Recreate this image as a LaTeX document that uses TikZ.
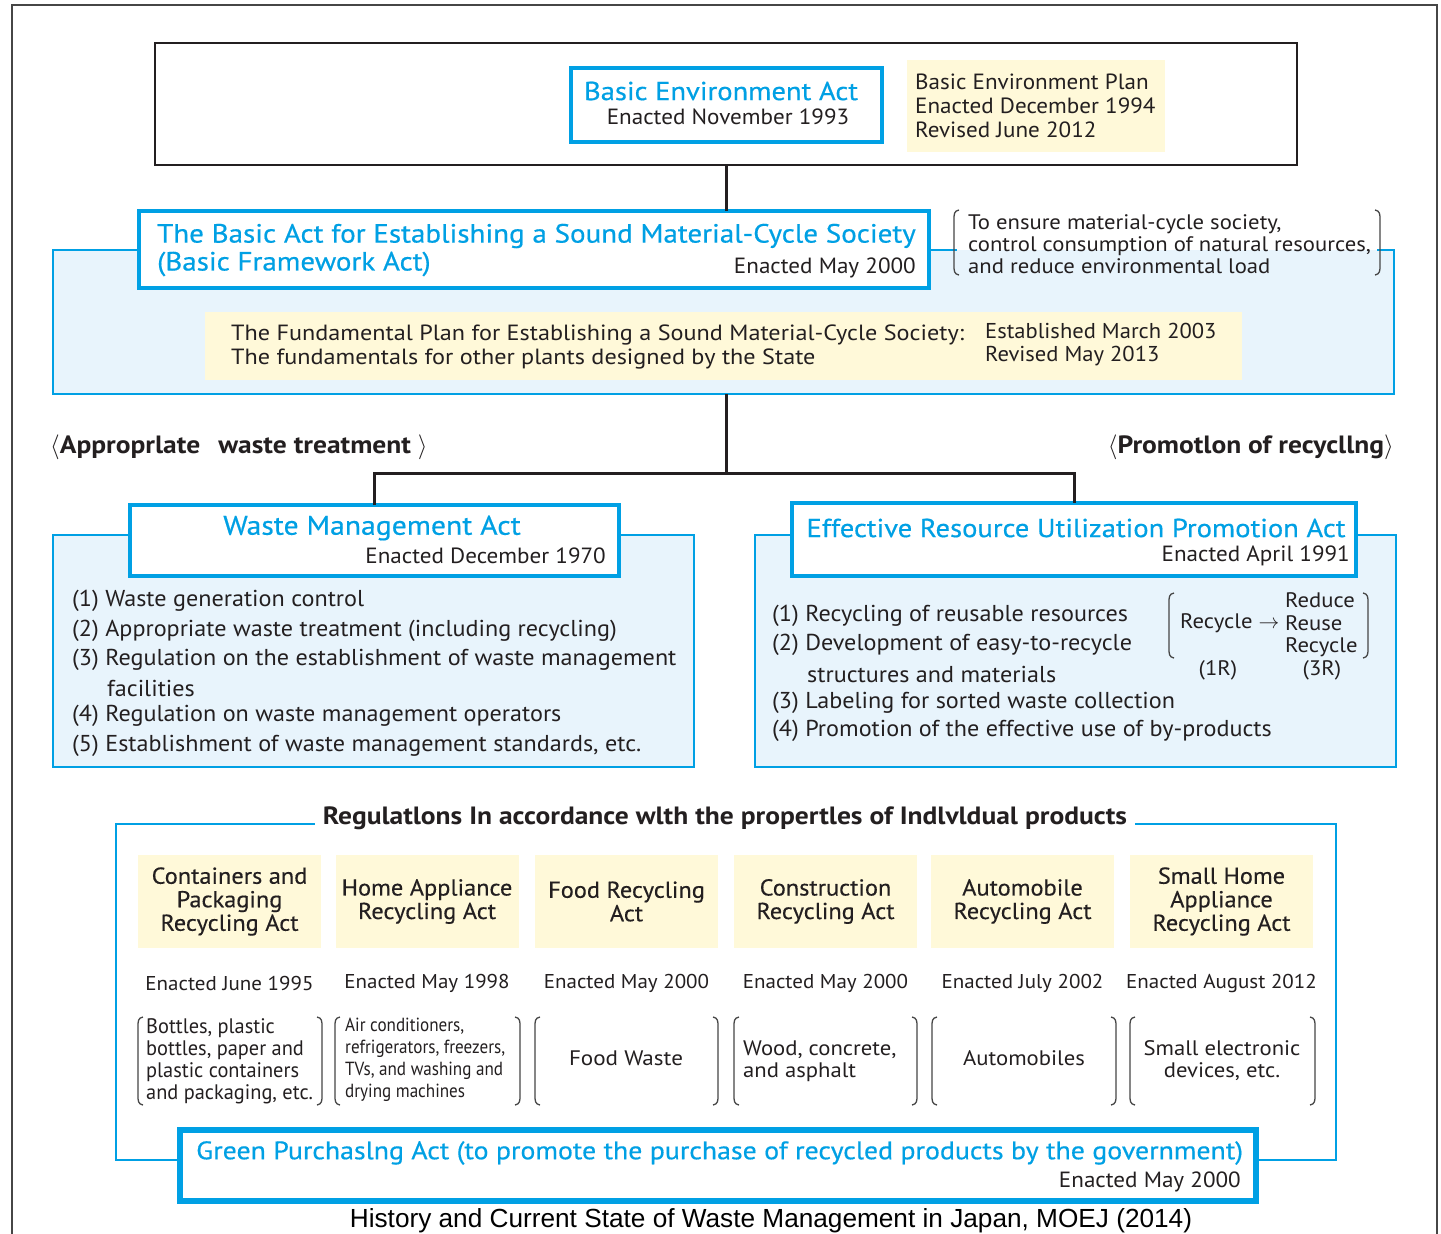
\documentclass[tikz,border=0pt]{standalone}
\usepackage{fontspec}
\setmainfont{PT Sans}
\newfontfamily\capfont{Liberation Sans}
\newfontfamily\ttlfont[FakeStretch=1.1,FakeBold=0.5]{PT Sans}
\newfontfamily\dtefont[FakeStretch=1.05]{PT Sans}
\newfontfamily\itmfont[FakeStretch=1.05]{PT Sans}
\newfontfamily\widefont[FakeStretch=1.08]{PT Sans}
\newfontfamily\xwidefont[FakeStretch=1.1]{PT Sans}
\newfontfamily\hdrfont[FakeStretch=1.1]{PT Sans}
\newfontfamily\lawfont[FakeStretch=1.06,FakeBold=0.3]{PT Sans}
\newfontfamily\pkgfont[FakeStretch=0.97]{PT Sans}
\newfontfamily\narrowfont[FakeStretch=0.9]{PT Sans}
\newcommand\myfs[2]{\fontsize{#1}{#2}\selectfont}
\definecolor{actblue}{RGB}{0,160,228}
\definecolor{panelblue}{RGB}{232,244,252}
\definecolor{cream}{RGB}{255,249,217}
\definecolor{ink}{RGB}{35,31,32}
\definecolor{framegray}{RGB}{70,70,70}
\tikzset{
  bluebox/.style={draw=actblue, line width=4pt, fill=white, inner sep=0pt, outer sep=0pt},
  panel/.style={draw=actblue, line width=1.8pt, fill=panelblue, inner sep=0pt, outer sep=0pt},
  creambox/.style={fill=cream, inner sep=0pt, outer sep=0pt},
  link/.style={draw=ink, line width=3pt},
  brk/.style={draw=framegray, line width=1.3pt},
  ttl/.style={text=actblue, font=\ttlfont\myfs{26}{28}, inner sep=0pt},
  dte/.style={text=ink, font=\dtefont\myfs{22}{24}, inner sep=0pt},
  txt/.style={text=ink, font=\dtefont\myfs{22}{24}, inner sep=0pt},
  itm/.style={text=ink, font=\itmfont\myfs{23}{29}, inner sep=0pt, anchor=west},
  hdr/.style={text=ink, font=\hdrfont\bfseries\myfs{25}{27}, inner sep=0pt},
  lawname/.style={text=ink, font=\lawfont\myfs{23}{23.5}, inner sep=0pt, align=center},
  scope/.style={text=ink, font=\widefont\myfs{21}{22}, inner sep=0pt},
}
\newcommand\leftbrk[3]{\draw[brk] (#1+5,#2) .. controls (#1,#2+1) and (#1,#2+4) .. (#1,#2+10) -- (#1,#3-10) .. controls (#1,#3-4) and (#1,#3-1) .. (#1+5,#3);}
\newcommand\rightbrk[3]{\draw[brk] (#1-5,#2) .. controls (#1,#2+1) and (#1,#2+4) .. (#1,#2+10) -- (#1,#3-10) .. controls (#1,#3-4) and (#1,#3-1) .. (#1-5,#3);}
\begin{document}
\begin{tikzpicture}[x=1pt,y=-1pt]
\useasboundingbox (0,0) rectangle (1441,1234);
\fill[white] (0,0) rectangle (1441,1234);
% outer frame
\draw[framegray, line width=1.6pt] (12,1234) -- (12,5) -- (1437,5) -- (1437,1234);

% ---- top: Basic Environment Act
\node[draw=ink, line width=1.8pt, fill=white, minimum width=1142pt, minimum height=122pt, inner sep=0pt, outer sep=0pt] (envframe) at (726,104) {};
\node[bluebox, minimum width=311pt, minimum height=74pt] (bea) at (726.5,105) {};
\node[ttl] (beatitle) at (721,91) {Basic Environment Act};
\node[dte] (beadate) at (728,117) {Enacted November 1993};
\node[creambox, minimum width=258pt, minimum height=92pt] (bep) at (1036,106) {};
\node[txt, anchor=west, align=left, font=\dtefont\myfs{22}{24}] (beptext) at (915,106) {{\dtefont\myfs{22}{24}Basic Environment Plan}\\Enacted December 1994\\Revised June 2012};

% ---- Basic Framework Act
\node[panel, minimum width=1341pt, minimum height=144pt] (cmpanel) at (723.5,322) {};
\fill[white] (957,248) rectangle (1377,250);
\fill[panelblue] (957,250) rectangle (1377,252);
\node[bluebox, minimum width=790pt, minimum height=77pt] (basicact) at (534,249.5) {};
\node[ttl, anchor=west, font=\ttlfont\myfs{26.4}{28}] (batitle) at (157,236) {The Basic Act for Establishing a Sound Material-Cycle Society};
\node[ttl, anchor=west, font=\ttlfont\myfs{26.4}{28}] (basub) at (157,264) {(Basic Framework Act)};
\node[dte, anchor=east] (badate) at (916,268) {Enacted May 2000};
\leftbrk{954}{210}{275}
\rightbrk{1380}{210}{275}
\node[txt, anchor=west, align=left, font=\widefont\myfs{21}{22}] (bapurpose) at (968,244) {To ensure material-cycle society,\\control consumption of natural resources,\\and reduce environmental load};
\node[creambox, minimum width=1037pt, minimum height=68pt] (fplan) at (723.5,346) {};
\node[txt, anchor=west, align=left, font=\xwidefont\myfs{22}{24}] (fplantext) at (231,347) {The Fundamental Plan for Establishing a Sound Material-Cycle Society:\\The fundamentals for other plants designed by the State};
\node[txt, anchor=west, align=left, font=\dtefont\myfs{21.5}{23}] (fplandate) at (985,345) {Established March 2003\\Revised May 2013};

\draw[link] (envframe.south) -- (envframe.south |- basicact.north);

% ---- section headings
\node[hdr, anchor=west] (lefthead) at (50,447) {$\langle$Approprlate\ \ \,waste treatment\ $\rangle$};
\node[hdr, anchor=east] (righthead) at (1394,447) {$\langle$Promotlon of recycllng$\rangle$};

% ---- Waste Management Act
\node[panel, minimum width=641pt, minimum height=232pt] (wmapanel) at (373.5,651) {};
\node[bluebox, minimum width=489pt, minimum height=71pt] (wma) at (374.5,540.5) {};
\node[ttl, font=\ttlfont\myfs{27}{28}] (wmatitle) at (372,528) {Waste Management Act};
\node[dte, anchor=east] (wmadate) at (606,556) {Enacted December 1970};
\node[itm] (w1) at (72,601) {(1) Waste generation control};
\node[itm] (w2) at (72,631) {(2) Appropriate waste treatment (including recycling)};
\node[itm] (w3) at (72,660) {(3) Regulation on the establishment of waste management};
\node[itm] (w3b) at (107,688) {facilities};
\node[itm] (w4) at (72,716) {(4) Regulation on waste management operators};
\node[itm] (w5) at (72,746) {(5) Establishment of waste management standards, etc.};

% ---- Effective Resource Utilization Promotion Act
\node[panel, minimum width=641pt, minimum height=232pt] (erpanel) at (1075.5,651) {};
\node[bluebox, minimum width=564pt, minimum height=73pt] (era) at (1074,539.5) {};
\node[ttl] (eratitle) at (1076,528) {Effective Resource Utilization Promotion Act};
\node[dte, anchor=east] (eradate) at (1350,556) {Enacted April 1991};
\node[itm] (e1) at (772,616) {(1) Recycling of reusable resources};
\node[itm] (e2) at (772,645) {(2) Development of easy-to-recycle};
\node[itm] (e2b) at (807,674) {structures and materials};
\node[itm] (e3) at (772,703) {(3) Labeling for sorted waste collection};
\node[itm] (e4) at (772,731) {(4) Promotion of the effective use of by-products};
\leftbrk{1169}{593}{658}
\rightbrk{1368}{593}{658}
\node[txt, anchor=west, font=\widefont\myfs{21}{22}] (r1) at (1180,623) {Recycle $\rightarrow$};
\node[txt, anchor=west, align=left, font=\widefont\myfs{21}{22.5}] (r3) at (1285,625) {Reduce\\Reuse\\Recycle};
\node[txt, font=\widefont\myfs{21}{22}] (r1lab) at (1218,670) {(1R)};
\node[txt, font=\widefont\myfs{21}{22}] (r3lab) at (1322,670) {(3R)};

% connectors
\coordinate (junc) at (726,473);
\draw[link] (envframe.south |- cmpanel.south) -- (junc);
\draw[link] (wma.north) |- (junc) -| (era.north);

% ---- Regulations frame
\node[draw=actblue, line width=1.8pt, minimum width=1220pt, minimum height=336pt, inner sep=0pt, outer sep=0pt] (regframe) at (726,992) {};
\node[hdr, fill=white, inner xsep=8pt, inner ysep=2pt] (reghead) at (725,818) {Regulatlons In accordance wlth the propertles of Indlvldual products};

\foreach \n/\cx/\name/\date in {
  1/229.5/{Containers and\\Packaging\\Recycling Act}/{Enacted June 1995},
  2/427/{Home Appliance\\Recycling Act}/{Enacted May 1998},
  3/626.5/{Food Recycling\\Act}/{Enacted May 2000},
  4/825.5/{Construction\\Recycling Act}/{Enacted May 2000},
  5/1022.5/{Automobile\\Recycling Act}/{Enacted July 2002},
  6/1221.5/{Small Home\\Appliance\\Recycling Act}/{Enacted August 2012}}{
  \node[creambox, minimum width=183pt, minimum height=93pt] (law\n) at (\cx,901.5) {};
  \node[lawname] (lawname\n) at (law\n.center) {\name};
  \node[dte, font=\dtefont\myfs{20}{22}] (lawdate\n) at (\cx,983) {\date};
}
\foreach \l/\r in {138/322, 335/520, 535/718, 734/917, 932/1116, 1130/1315}{
  \leftbrk{\l}{1017}{1105}
  \rightbrk{\r}{1017}{1105}
}
\node[scope, anchor=west, align=left, font=\pkgfont\myfs{21}{22}] (s1) at (146,1061) {Bottles, plastic\\bottles, paper and\\plastic containers\\and packaging, etc.};
\node[scope, anchor=west, align=left, font=\narrowfont\myfs{19}{22}] (s2) at (345,1060) {Air conditioners,\\refrigerators, freezers,\\TVs, and washing and\\drying machines};
\node[scope, font=\xwidefont\myfs{21}{22}] (s3) at (626,1058) {Food Waste};
\node[scope, anchor=west, align=left] (s4) at (743,1061) {Wood, concrete,\\and asphalt};
\node[scope] (s5) at (1024,1058) {Automobiles};
\node[scope, align=center] (s6) at (1222,1061) {Small electronic\\devices, etc.};

% ---- Green Purchasing Act
\node[draw=actblue, line width=6pt, fill=white, minimum width=1076pt, minimum height=71pt, inner sep=0pt, outer sep=0pt] (gpa) at (718,1165.5) {};
\node[ttl, anchor=west, font=\ttlfont\myfs{25.3}{28}] (gpatitle) at (196,1153) {Green Purchaslng Act (to promote the purchase of recycled products by the government)};
\node[dte, anchor=east] (gpadate) at (1241,1182) {Enacted May 2000};

% caption
\node[text=black, font=\capfont\myfs{26.2}{28}, inner sep=0pt] (caption) at (771,1221) {History and Current State of Waste Management in Japan, MOEJ (2014)};
\end{tikzpicture}
\end{document}
